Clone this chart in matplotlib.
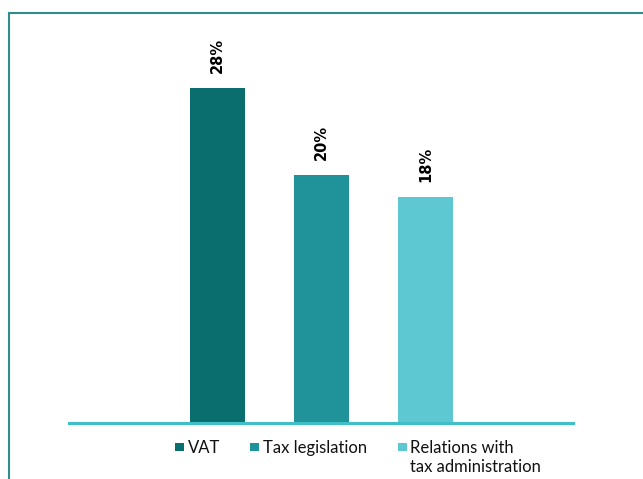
import matplotlib
matplotlib.use("Agg")
import matplotlib.pyplot as plt
from matplotlib.patches import Rectangle
from matplotlib.lines import Line2D

categories = ["VAT", "Tax legislation", "Relations with\ntax administration"]
values = [28, 20, 18]
labels = ["28%", "20%", "18%"]
colors = ["#0a6e6e", "#20929a", "#5ec8d2"]

W, H = 643, 479
fig = plt.figure(figsize=(W / 100, H / 100), dpi=100)

def fx(px):
    return px / W

def fy(py):
    return 1 - py / H

# outer frame (open to the right and bottom)
fig.add_artist(Line2D([fx(8.5), fx(8.5)], [fy(13), fy(479)], color="#2f8d8d", lw=1.5))
fig.add_artist(Line2D([fx(8.5), fx(643)], [fy(13), fy(13)], color="#2f8d8d", lw=1.5))

# plotting area
left, right, top, base = 69, 573, 13, 423
ax = fig.add_axes([fx(left), fy(base), fx(right - left), (base - top) / H])
ax.set_axis_off()

x = list(range(len(values)))
floor = -2.8
ax.bar(x, [v - floor for v in values], bottom=floor, width=0.53, color=colors)
ax.set_xlim(-1.428, 3.418)
ax.set_ylim(floor, floor + (base - top) / 10.875)

# baseline
ax.axhline(floor, color="#3fc0c8", lw=2.2, clip_on=False)

for xi, v, lab in zip(x, values, labels):
    ax.annotate(lab, (xi, v), xytext=(0, 10.5), textcoords="offset points",
                rotation=90, ha="center", va="bottom",
                fontsize=10.5, fontweight="bold", family="DejaVu Sans",
                color="black")

# legend
leg_items = [(175, 188), (250, 263), (398, 410)]
for (sq, tx), c, name in zip(leg_items, colors, categories):
    fig.add_artist(Rectangle((fx(sq), fy(451)), fx(8.5), 8.5 / H,
                             facecolor=c, edgecolor="none"))
    fig.text(fx(tx), fy(440), name, ha="left", va="top",
             fontsize=12, family="Lato", color="#111111", linespacing=1.2)

fig.savefig("out.png", dpi=100, facecolor="white")
